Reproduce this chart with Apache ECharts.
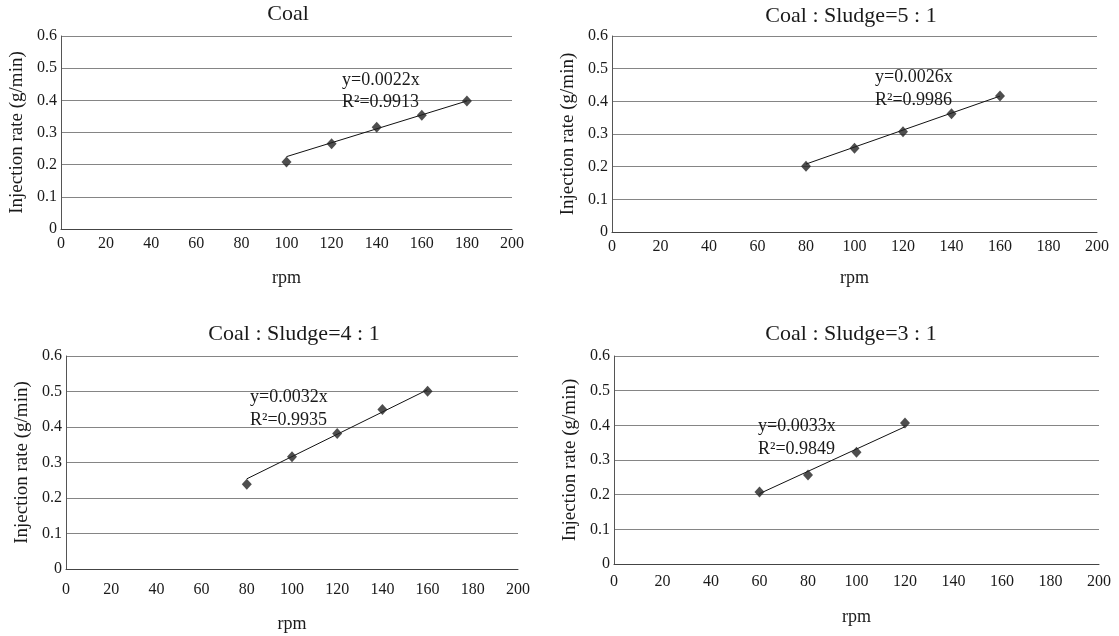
<!DOCTYPE html>
<html><head><meta charset="utf-8">
<script src="https://cdn.jsdelivr.net/npm/echarts@6/dist/echarts.min.js"></script>
<style>html,body{margin:0;padding:0;background:#fff}#c{width:1119px;height:636px}</style>
</head><body><div id="c"></div>
<script>
// ---- data ----
const titles = ['Coal', 'Coal : Sludge=5 : 1', 'Coal : Sludge=4 : 1', 'Coal : Sludge=3 : 1'];
const rpm1 = [100, 120, 140, 160, 180];
const rate1 = [0.208, 0.265, 0.316, 0.354, 0.398];
const rpm2 = [80, 100, 120, 140, 160];
const rate2 = [0.201, 0.256, 0.307, 0.362, 0.416];
const rpm3 = [80, 100, 120, 140, 160];
const rate3 = [0.239, 0.316, 0.382, 0.449, 0.501];
const rpm4 = [60, 80, 100, 120];
const rate4 = [0.208, 0.257, 0.322, 0.407];
const trendX1 = [100, 180], trendY1 = [0.225, 0.398];
const trendX2 = [80, 160],  trendY2 = [0.208, 0.416];
const trendX3 = [80, 160],  trendY3 = [0.254, 0.505];
const trendX4 = [60, 120],  trendY4 = [0.203, 0.396];
const equations = ['y=0.0022x', 'y=0.0026x', 'y=0.0032x', 'y=0.0033x'];
const r2Labels = ['R\u00b2=0.9913', 'R\u00b2=0.9986', 'R\u00b2=0.9935', 'R\u00b2=0.9849'];
const xMin = 0, xMax = 200, xStep = 20;
const yMin = 0, yMax = 0.6, yStep = 0.1;
const xName = 'rpm';
const yName = 'Injection rate (g/min)';

// ---- layout ----
const FONT = '"Liberation Serif", "Times New Roman", serif';
const grids = [
  {left: 61, top: 36, width: 451, height: 193},
  {left: 612, top: 36, width: 485, height: 196},
  {left: 66, top: 356, width: 452, height: 213},
  {left: 614, top: 356, width: 485, height: 208}
];
const titlePos = [[288, 3], [851, 5], [294, 323], [851, 323]];
const eqPos = [[342, 71, 93], [875, 68, 91], [250, 388, 411], [758, 417, 440]];
const xNameGap = [40, 37, 46, 44];
const xLabelMargin = [7, 7, 13, 10];
const pts = [[rpm1, rate1], [rpm2, rate2], [rpm3, rate3], [rpm4, rate4]];
const trends = [[trendX1, trendY1], [trendX2, trendY2], [trendX3, trendY3], [trendX4, trendY4]];

const option = {
  backgroundColor: '#fff',
  animation: false,
  title: [],
  grid: grids,
  xAxis: [], yAxis: [], series: []
};
for (let i = 0; i < 4; i++) {
  option.title.push({
    text: titles[i], left: titlePos[i][0], top: titlePos[i][1], textAlign: 'center', padding: 0,
    textStyle: {fontFamily: FONT, fontSize: 22, fontWeight: 'normal', color: '#1a1a1a'}
  });
  option.title.push({
    text: equations[i], left: eqPos[i][0], top: eqPos[i][1], padding: 0,
    textStyle: {fontFamily: FONT, fontSize: 18, fontWeight: 'normal', color: '#1a1a1a'}
  });
  option.title.push({
    text: r2Labels[i], left: eqPos[i][0], top: eqPos[i][2], padding: 0,
    textStyle: {fontFamily: FONT, fontSize: 18, fontWeight: 'normal', color: '#1a1a1a'}
  });
  option.xAxis.push({
    type: 'value', gridIndex: i, min: xMin, max: xMax, interval: xStep,
    name: xName, nameLocation: 'middle', nameGap: xNameGap[i],
    nameTextStyle: {fontFamily: FONT, fontSize: 18, color: '#1a1a1a'},
    axisLine: {show: true, lineStyle: {color: '#444', width: 1}},
    axisTick: {show: false},
    axisLabel: {fontFamily: FONT, fontSize: 16, color: '#1a1a1a', margin: xLabelMargin[i]},
    splitLine: {show: false}
  });
  option.yAxis.push({
    type: 'value', gridIndex: i, min: yMin, max: yMax, interval: yStep,
    name: yName, nameLocation: 'middle', nameGap: 34, nameRotate: 90,
    nameTextStyle: {fontFamily: FONT, fontSize: 19, color: '#1a1a1a'},
    axisLine: {show: true, lineStyle: {color: '#555', width: 1}},
    axisTick: {show: false},
    axisLabel: {fontFamily: FONT, fontSize: 16, color: '#1a1a1a', margin: 4},
    splitLine: {show: true, lineStyle: {color: '#858585', width: 1}}
  });
  option.series.push({
    type: 'line', xAxisIndex: i, yAxisIndex: i,
    data: trends[i][0].map((x, k) => [x, trends[i][1][k]]),
    showSymbol: false, symbol: 'none',
    lineStyle: {color: '#111', width: 1}, z: 3
  });
  option.series.push({
    type: 'scatter', xAxisIndex: i, yAxisIndex: i,
    data: pts[i][0].map((x, k) => [x, pts[i][1][k]]),
    symbol: 'diamond', symbolSize: [10, 11],
    itemStyle: {color: '#222'}, z: 4
  });
}
const chart = echarts.init(document.getElementById('c'), null, {renderer: 'canvas'});
chart.setOption(option);
</script>
</body></html>
